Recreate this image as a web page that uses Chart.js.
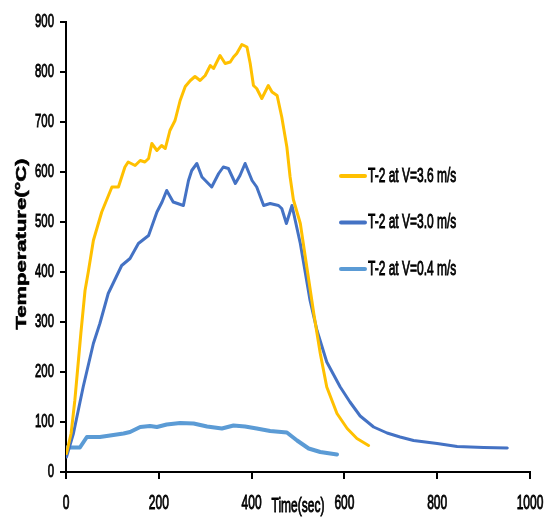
<!DOCTYPE html>
<html>
<head>
<meta charset="utf-8">
<script src="https://cdn.jsdelivr.net/npm/chart.js@4/dist/chart.umd.min.js"></script>
<style>
  html, body { margin: 0; padding: 0; background: #fff; }
  #wrap { width: 552px; height: 519px; }
</style>
</head>
<body>
<div id="wrap"><canvas id="c" width="552" height="519"></canvas></div>
<script>
// T-2 temperature histories (time in s, temperature in °C)
const timeV36 = [1, 11, 19, 32, 41, 48, 59, 77, 88, 99, 113, 127, 134, 149, 160, 170, 178, 185, 196, 206, 214, 224, 235, 246, 257, 268, 278, 289, 300, 311, 318, 332, 343, 354, 361, 368, 379, 390, 397, 404, 411, 422, 436, 444, 455, 465, 476, 483, 490, 505, 519, 534, 548, 562, 584, 606, 627, 652];
const tempV36 = [37, 77, 143, 277, 363, 400, 463, 520, 545, 570, 570, 610, 620, 613, 623, 620, 627, 657, 643, 653, 647, 683, 703, 743, 771, 783, 791, 783, 793, 813, 807, 833, 817, 820, 830, 837, 855, 850, 817, 773, 767, 747, 773, 760, 753, 710, 650, 590, 545, 497, 410, 317, 237, 170, 117, 87, 67, 53];

const timeV30 = [1, 16, 37, 59, 73, 91, 120, 138, 156, 178, 196, 207, 217, 231, 253, 264, 271, 282, 293, 314, 329, 339, 350, 365, 375, 386, 401, 411, 426, 440, 458, 465, 475, 481, 487, 505, 526, 541, 562, 591, 612, 634, 663, 692, 720, 749, 800, 843, 900, 951];
const tempV30 = [30, 77, 170, 257, 297, 357, 413, 427, 457, 473, 520, 540, 563, 540, 533, 583, 603, 617, 590, 570, 597, 610, 607, 577, 593, 617, 583, 570, 533, 537, 533, 527, 497, 515, 533, 457, 343, 283, 220, 170, 140, 112, 90, 78, 70, 63, 57, 51, 49, 48];

const timeV04 = [0, 30, 45, 73, 95, 124, 138, 160, 181, 196, 217, 246, 275, 304, 336, 361, 386, 411, 440, 476, 498, 523, 548, 584];
const tempV04 = [49, 49, 70, 70, 73, 77, 80, 90, 92, 90, 95, 98, 97, 91, 87, 93, 91, 87, 82, 79, 63, 47, 40, 35];

const seriesLabels = ['T-2 at V=3.6 m/s', 'T-2 at V=3.0 m/s', 'T-2 at V=0.4 m/s'];
const seriesColors = ['#FFC000', '#4472C4', '#5B9BD5'];

const xTicks = [0, 200, 400, 600, 800, 1000];
const yTicks = [0, 100, 200, 300, 400, 500, 600, 700, 800, 900];

const xTitle = 'Time(sec)';
const yTitle = 'Temperature(°C)';

const FONT = "'Liberation Sans', Arial, sans-serif";
// all lettering is set in a horizontally condensed face
const SQUEEZE = 0.6;

function pairs(xs, ys) { return xs.map((x, i) => ({ x: x, y: ys[i] })); }

function squeezedText(ctx, text, x, y, font, align) {
  ctx.save();
  ctx.font = font;
  ctx.textBaseline = 'middle';
  ctx.textAlign = align;
  ctx.translate(x, y);
  ctx.scale(SQUEEZE, 1);
  ctx.fillStyle = '#000';
  ctx.strokeStyle = '#000';
  ctx.lineWidth = 0.9;
  ctx.fillText(text, 0, 0);
  ctx.strokeText(text, 0, 0);
  ctx.restore();
}

// Tick labels and axis titles
const axisText = {
  id: 'axisText',
  afterDraw(chart) {
    const ctx = chart.ctx;
    const xs = chart.scales.x, ys = chart.scales.y;
    const area = chart.chartArea;
    ctx.save();
    yTicks.forEach(v => {
      squeezedText(ctx, String(v), area.left - 12, ys.getPixelForValue(v), '19px ' + FONT, 'right');
    });
    xTicks.forEach(v => {
      squeezedText(ctx, String(v), xs.getPixelForValue(v), area.bottom + 31, '20px ' + FONT, 'center');
    });
    squeezedText(ctx, xTitle, xs.getPixelForValue(500), area.bottom + 34, '20px ' + FONT, 'center');

    // vertical title: text runs upward, glyph height condensed
    ctx.translate(22, 244);
    ctx.rotate(-Math.PI / 2);
    ctx.scale(1, 0.65);
    ctx.font = 'bold 22px ' + FONT;
    ctx.textAlign = 'center';
    ctx.textBaseline = 'middle';
    ctx.fillStyle = '#000';
    ctx.strokeStyle = '#000';
    ctx.lineWidth = 0.8;
    ctx.fillText(yTitle, 0, 0);
    ctx.strokeText(yTitle, 0, 0);
    ctx.restore();
  }
};

// Legend drawn inside the plot area, to the right of the curves
const insideLegend = {
  id: 'insideLegend',
  afterDraw(chart) {
    const ctx = chart.ctx;
    ctx.save();
    chart.data.datasets.forEach((ds, i) => {
      const y = 176 + i * 46.5;
      ctx.strokeStyle = ds.borderColor;
      ctx.lineWidth = 4;
      ctx.lineCap = 'round';
      ctx.beginPath();
      ctx.moveTo(341, y);
      ctx.lineTo(365, y);
      ctx.stroke();
      squeezedText(ctx, ds.label, 368, y, '20px ' + FONT, 'left');
    });
    ctx.restore();
  }
};

const datasets = [
  { label: seriesLabels[0], data: pairs(timeV36, tempV36), borderColor: seriesColors[0] },
  { label: seriesLabels[1], data: pairs(timeV30, tempV30), borderColor: seriesColors[1] },
  { label: seriesLabels[2], data: pairs(timeV04, tempV04), borderColor: seriesColors[2], borderWidth: 4 }
].map(d => Object.assign({ borderWidth: 3, pointRadius: 0, tension: 0, fill: false, borderJoinStyle: 'round', borderCapStyle: 'round' }, d));

new Chart(document.getElementById('c'), {
  type: 'line',
  data: { datasets: datasets },
  plugins: [axisText, insideLegend],
  options: {
    responsive: false,
    animation: false,
    layout: { padding: { top: 22, right: 22, left: 0, bottom: 0 } },
    plugins: { legend: { display: false }, tooltip: { enabled: false } },
    scales: {
      x: {
        type: 'linear',
        min: 0, max: 1000,
        afterBuildTicks(scale) { scale.ticks = xTicks.map(v => ({ value: v })); },
        afterFit(scale) { scale.height = 47; },
        ticks: { display: false },
        grid: { drawOnChartArea: false, drawTicks: true, tickLength: 7, color: '#000', lineWidth: 2 },
        border: { display: true, color: '#000', width: 2 }
      },
      y: {
        type: 'linear',
        min: 0, max: 900,
        afterBuildTicks(scale) { scale.ticks = yTicks.map(v => ({ value: v })); },
        afterFit(scale) { scale.width = 66; },
        ticks: { display: false },
        grid: { drawOnChartArea: false, drawTicks: true, tickLength: 6, color: '#000', lineWidth: 2 },
        border: { display: true, color: '#000', width: 2 }
      }
    }
  }
});
</script>
</body>
</html>
